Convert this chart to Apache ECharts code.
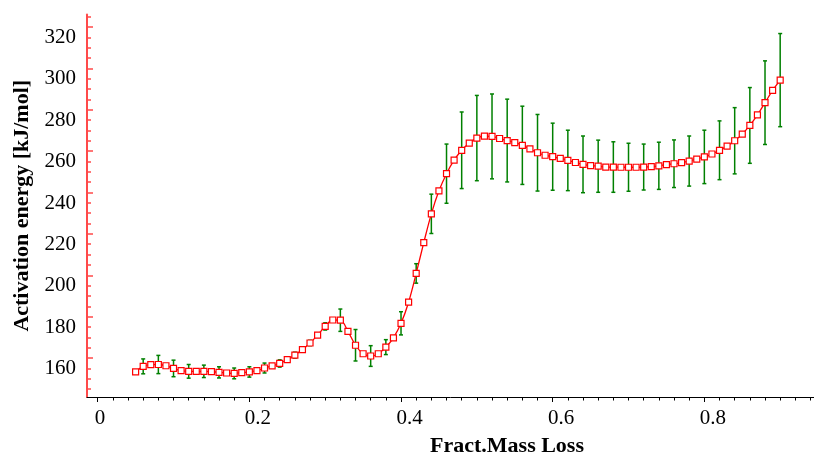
<!DOCTYPE html>
<html><head><meta charset="utf-8">
<script src="https://cdn.jsdelivr.net/npm/echarts@6/dist/echarts.min.js"></script>
<style>html,body{margin:0;padding:0;background:#fff}#c{width:814px;height:462px}</style>
</head><body><div id="c"></div>
<script>
const massLoss = [0.05,0.06,0.07,0.08,0.09,0.10,0.11,0.12,0.13,0.14,
  0.15,0.16,0.17,0.18,0.19,0.20,0.21,0.22,0.23,0.24,
  0.25,0.26,0.27,0.28,0.29,0.30,0.31,0.32,0.33,0.34,
  0.35,0.36,0.37,0.38,0.39,0.40,0.41,0.42,0.43,0.44,
  0.45,0.46,0.47,0.48,0.49,0.50,0.51,0.52,0.53,0.54,
  0.55,0.56,0.57,0.58,0.59,0.60,0.61,0.62,0.63,0.64,
  0.65,0.66,0.67,0.68,0.69,0.70,0.71,0.72,0.73,0.74,
  0.75,0.76,0.77,0.78,0.79,0.80,0.81,0.82,0.83,0.84,
  0.85,0.86,0.87,0.88,0.89,0.90];
const energy = [153.3,156.0,156.8,156.9,156.3,155.0,153.9,153.6,153.6,153.6,
  153.5,153.1,152.8,152.6,153.0,153.3,153.9,155.2,156.2,157.4,
  159.3,161.4,164.1,167.3,171.1,175.3,178.4,178.3,172.9,166.2,
  162.1,161.0,162.1,165.3,169.8,176.8,187.0,200.9,215.8,229.7,
  240.8,249.1,255.6,260.4,263.9,266.3,267.2,267.1,266.1,265.1,
  264.1,262.8,261.1,259.2,258.0,257.3,256.5,255.5,254.5,253.6,
  253.0,252.7,252.3,252.3,252.2,252.2,252.2,252.3,252.5,252.9,
  253.5,253.9,254.4,255.2,256.1,257.2,258.6,260.4,262.4,265.0,
  268.2,272.4,277.5,283.4,289.3,294.3];
const errMassLoss = [0.06,0.08,0.10,0.12,0.14,0.16,0.18,0.20,0.22,0.24,
  0.26,0.28,0.30,0.32,0.34,0.36,0.38,0.40,0.42,0.44,
  0.46,0.48,0.50,0.52,0.54,0.56,0.58,0.60,0.62,0.64,
  0.66,0.68,0.70,0.72,0.74,0.76,0.78,0.80,0.82,0.84,
  0.86,0.88,0.90];
const errHalf = [3.6,4.4,4.0,3.3,3.0,2.7,2.6,2.5,2.4,1.75,
  1.45,1.3,1.75,5.4,7.6,5.0,3.6,5.6,4.7,9.5,
  14.3,18.5,20.6,20.5,20.0,18.9,18.5,16.2,14.6,13.7,
  12.6,12.2,11.6,11.1,11.4,11.5,12.1,12.9,14.2,16.0,
  18.3,20.2,22.5];
const xTickLabels = [0, 0.2, 0.4, 0.6, 0.8];
const xMinorTicks = [0,0.02,0.04,0.06,0.08,0.1,0.12,0.14,0.16,0.18,0.2,0.22,0.24,0.26,0.28,0.3,
  0.32,0.34,0.36,0.38,0.4,0.42,0.44,0.46,0.48,0.5,0.52,0.54,0.56,0.58,0.6,0.62,0.64,0.66,0.68,
  0.7,0.72,0.74,0.76,0.78,0.8,0.82,0.84,0.86,0.88,0.9,0.92,0.94];
const yTickLabels = [160,180,200,220,240,260,280,300,320];
const yMinorTicks = [145,150,155,165,170,175,185,190,195,205,210,215,225,230,235,245,250,255,
  265,270,275,285,290,295,305,310,315,325];

const X_MIN = -0.0141, X_MAX = 0.9446, Y_MIN = 141.2, Y_MAX = 326;
const serif = 'Liberation Serif';
const axisRed = '#ff4a4a';

const lineData = massLoss.map((x, i) => [x, energy[i]]);
const errData = errMassLoss.map((x, i) => {
  const c = energy[massLoss.indexOf(x)];
  return [x, c - errHalf[i], c + errHalf[i]];
});

const chart = echarts.init(document.getElementById('c'));
const green = '#008000';
chart.setOption({
  animation: false,
  backgroundColor: '#fff',
  grid: {left: 87, right: 0, top: 14.5, bottom: 60.3, containLabel: false},
  xAxis: [{
    type: 'value', min: X_MIN, max: X_MAX, position: 'bottom',
    axisLine: {show: true, onZero: false, lineStyle: {color: '#000', width: 1}},
    axisTick: {show: true, inside: false, length: 5, customValues: xTickLabels, lineStyle: {color: '#000'}},
    axisLabel: {
      customValues: xTickLabels, margin: 11, fontFamily: serif, fontSize: 21, color: '#000',
      formatter: v => v === 0 ? '{z|0}' : '{a|' + v + '}',
      rich: {
        a: {padding: [0, 0, 0, 17], fontFamily: serif, fontSize: 21, color: '#000'},
        z: {padding: [0, 0, 0, 4.6], fontFamily: serif, fontSize: 21, color: '#000'}
      }
    },
    splitLine: {show: false},
    name: 'Fract.Mass Loss', nameLocation: 'middle', nameGap: 38,
    nameTextStyle: {fontFamily: serif, fontSize: 22, fontWeight: 'bold', color: '#000', padding: [0, 0, 0, 113]}
  }, {
    type: 'value', min: X_MIN, max: X_MAX, position: 'bottom',
    axisLine: {show: false},
    axisTick: {show: true, inside: false, length: 3.5, customValues: xMinorTicks, lineStyle: {color: '#000'}},
    axisLabel: {show: false}, splitLine: {show: false}
  }],
  yAxis: [{
    type: 'value', min: Y_MIN, max: Y_MAX, position: 'left',
    axisLine: {show: true, onZero: false, lineStyle: {color: axisRed, width: 2}},
    axisTick: {show: true, inside: true, length: 6, customValues: yTickLabels, lineStyle: {color: axisRed, width: 1.5}},
    axisLabel: {customValues: yTickLabels, margin: 11, verticalAlign: 'top', fontFamily: serif, fontSize: 21, color: '#000'},
    splitLine: {show: false},
    name: 'Activation energy [kJ/mol]', nameLocation: 'middle', nameGap: 52,
    nameTextStyle: {fontFamily: serif, fontSize: 22, fontWeight: 'bold', color: '#000'}
  }, {
    type: 'value', min: Y_MIN, max: Y_MAX, position: 'left',
    axisLine: {show: false, onZero: false},
    axisTick: {show: true, inside: true, length: 4, customValues: yMinorTicks, lineStyle: {color: axisRed, width: 1.5}},
    axisLabel: {show: false}, splitLine: {show: false}
  }],
  series: [{
    type: 'custom', xAxisIndex: 0, yAxisIndex: 0, z: 2,
    data: errData,
    encode: {x: 0, y: [1, 2]},
    renderItem: (params, api) => {
      const x = api.value(0);
      const top = api.coord([x, api.value(2)]);
      const bot = api.coord([x, api.value(1)]);
      const cw = 2;
      const st = {stroke: green, lineWidth: 1.5};
      return {type: 'group', children: [
        {type: 'line', shape: {x1: top[0], y1: top[1], x2: bot[0], y2: bot[1]}, style: st},
        {type: 'line', shape: {x1: top[0] - cw, y1: top[1], x2: top[0] + cw, y2: top[1]}, style: st},
        {type: 'line', shape: {x1: bot[0] - cw, y1: bot[1], x2: bot[0] + cw, y2: bot[1]}, style: st}
      ]};
    }
  }, {
    type: 'line', xAxisIndex: 0, yAxisIndex: 0, z: 3,
    data: lineData, smooth: 0.35,
    symbol: 'rect', symbolSize: 6, showAllSymbol: true,
    lineStyle: {color: '#ff0000', width: 1.3},
    itemStyle: {color: '#fff', borderColor: '#ff0000', borderWidth: 1.2},
    emphasis: {disabled: true}
  }]
});
</script></body></html>
